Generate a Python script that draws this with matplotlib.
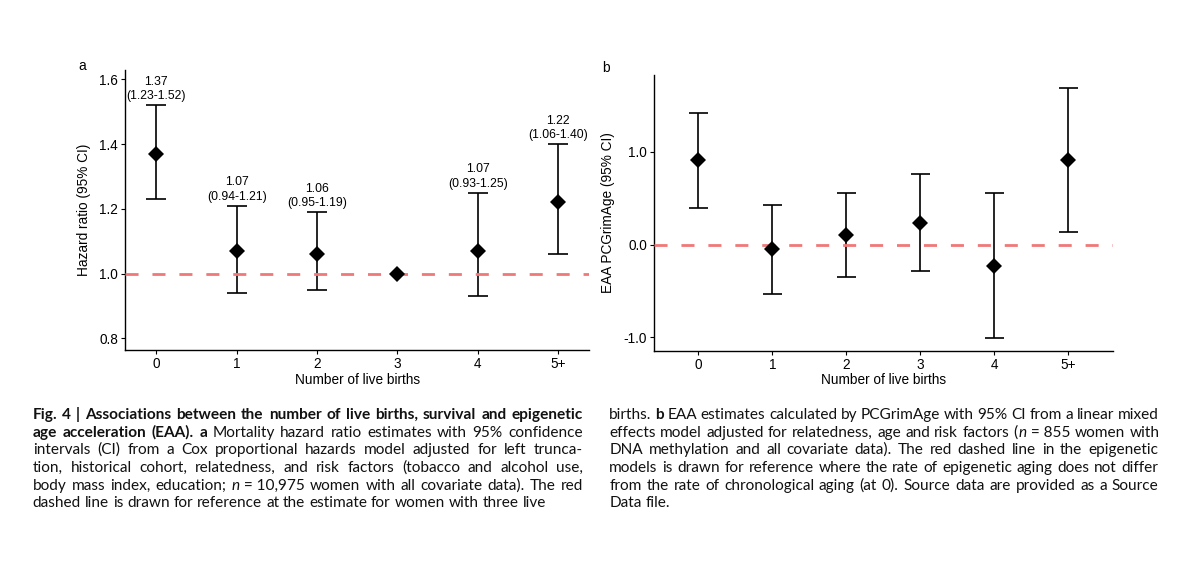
import math
import numpy as np
import matplotlib
matplotlib.use("Agg")
import matplotlib.pyplot as plt

# ---------------- data ----------------
births = ["0", "1", "2", "3", "4", "5+"]

hr_est = [1.37, 1.07, 1.06, 1.00, 1.07, 1.22]
hr_low = [1.23, 0.94, 0.95, np.nan, 0.93, 1.06]
hr_high = [1.52, 1.21, 1.19, np.nan, 1.25, 1.40]
hr_ref = 1.0

eaa_est = [0.91, -0.05, 0.10, 0.23, -0.23, 0.91]
eaa_low = [0.39, -0.53, -0.35, -0.29, -1.01, 0.13]
eaa_high = [1.42, 0.43, 0.56, 0.76, 0.56, 1.69]
eaa_ref = 0.0

hr_ticks = [0.8, 1.0, 1.2, 1.4, 1.6]
hr_ticklabels = ["0.8", "1.0", "1.2", "1.4", "1.6"]
eaa_ticks = [-1.0, 0.0, 1.0]
eaa_ticklabels = ["-1.0", "0.0", "1.0"]

xlabel = "Number of live births"
ylabel_a = "Hazard ratio (95% CI)"
ylabel_b = "EAA PCGrimAge (95% CI)"

caption_left = [
    ([("Fig. 4 | Associations between the number of live births, survival and epigenetic", "b")], True),
    ([("age acceleration (EAA). a", "b"), (" Mortality hazard ratio estimates with 95% confidence", "r")], True),
    ([("intervals (CI) from a Cox proportional hazards model adjusted for left trunca-", "r")], True),
    ([("tion, historical cohort, relatedness, and risk factors (tobacco and alcohol use,", "r")], True),
    ([("body mass index, education; ", "r"), ("n", "i"), ("\u00a0=\u00a010,975 women with all covariate data). The red", "r")], True),
    ([("dashed line is drawn for reference at the estimate for women with three live", "r")], False),
]
caption_right = [
    ([("births. ", "r"), ("b", "b"), (" EAA estimates calculated by PCGrimAge with 95% CI from a linear mixed", "r")], True),
    ([("effects model adjusted for relatedness, age and risk factors (", "r"), ("n", "i"), ("\u00a0=\u00a0855 women with", "r")], True),
    ([("DNA methylation and all covariate data). The red dashed line in the epigenetic", "r")], True),
    ([("models is drawn for reference where the rate of epigenetic aging does not differ", "r")], True),
    ([("from the rate of chronological aging (at 0). Source data are provided as a Source", "r")], True),
    ([("Data file.", "r")], False),
]

# ---------------- style ----------------
W, H, DPI = 1200, 564, 100
plt.rcParams["font.family"] = ["Liberation Sans", "DejaVu Sans"]
plt.rcParams["lines.scale_dashes"] = False
RED = "#F07878"
TICK_FS = 9.8
TITLE_FS = 9.8
ANN_FS = 8.7
LW = 1.2
CAP = 0.125  # half cap width in data units

fig = plt.figure(figsize=(W / DPI, H / DPI), dpi=DPI)
fig.patch.set_facecolor("white")


def px_axes(l, t, r, b):
    return fig.add_axes([l / W, 1 - b / H, (r - l) / W, (b - t) / H])


def style_axes(ax):
    for s in ["top", "right"]:
        ax.spines[s].set_visible(False)
    for s in ["left", "bottom"]:
        ax.spines[s].set_linewidth(1.0)
        ax.spines[s].set_color("black")
    ax.tick_params(axis="both", length=2.9, width=0.8, color="black",
                   labelsize=TICK_FS, labelcolor="black", pad=2.0)
    ax.set_facecolor("white")


def draw_panel(ax, est, low, high, ref, ticks, ticklabels, ylab, labels=None):
    x = np.arange(len(births))
    est = np.asarray(est, float)
    low = np.asarray(low, float)
    high = np.asarray(high, float)
    m = ~np.isnan(low)
    ax.vlines(x[m], low[m], high[m], color="black", lw=LW, zorder=2)
    ax.hlines(low[m], x[m] - CAP, x[m] + CAP, color="black", lw=LW, zorder=2)
    ax.hlines(high[m], x[m] - CAP, x[m] + CAP, color="black", lw=LW, zorder=2)
    ax.axhline(ref, color=RED, lw=2.0, dashes=(9.4, 10.0), zorder=3)
    ax.plot(x, est, linestyle="none", marker="D", ms=8.0, mew=0,
            color="black", zorder=4)
    if labels:
        for xi, hi, lab in zip(x, high, labels):
            if lab:
                ax.annotate(lab, xy=(xi, hi), xytext=(0, 2.2),
                            textcoords="offset points", ha="center",
                            va="bottom", fontsize=ANN_FS, linespacing=1.25,
                            color="black")
    ax.set_xticks(x)
    ax.set_xticklabels(births)
    ax.set_yticks(ticks)
    ax.set_yticklabels(ticklabels)
    ax.set_xlabel(xlabel, fontsize=TITLE_FS)
    ax.set_ylabel(ylab, fontsize=TITLE_FS)
    ax.xaxis.label.set_va("center")
    ax.yaxis.label.set_va("center")


# panel a
axa = px_axes(125, 70, 589.3, 350)
style_axes(axa)
hr_labels = [
    "" if np.isnan(lo) else f"{e:.2f}\n({lo:.2f}-{hi:.2f})"
    for e, lo, hi in zip(hr_est, hr_low, hr_high)
]
draw_panel(axa, hr_est, hr_low, hr_high, hr_ref, hr_ticks, hr_ticklabels,
           ylabel_a, hr_labels)
axa.set_xlim(-0.39, 5.39)
axa.set_ylim(0.764, 1.629)
axa.yaxis.set_label_coords((84 - 125) / 464.3, 0.5)
axa.xaxis.set_label_coords(0.5, (350 - 380) / 280)

# panel b
axb = px_axes(654, 75, 1112.7, 350.7)
style_axes(axb)
draw_panel(axb, eaa_est, eaa_low, eaa_high, eaa_ref, eaa_ticks,
           eaa_ticklabels, ylabel_b)
axb.set_xlim(-0.6, 5.6)
axb.set_ylim(-1.144, 1.826)
axb.yaxis.set_label_coords((608.3 - 654) / 458.7, 0.5)
axb.xaxis.set_label_coords(0.5, (350.7 - 380) / 275.7)

fig.text(82 / W, 1 - 70 / H, "a", fontsize=10, va="baseline", ha="center")
fig.text(606 / W, 1 - 71.5 / H, "b", fontsize=10, va="baseline", ha="center")

# ---------------- caption ----------------
CAP_FAMILY = ["Lato", "DejaVu Sans"]
CAP_FS = 11.1
renderer = fig.canvas.get_renderer()


def text_kw(st):
    kw = dict(fontsize=CAP_FS, family=CAP_FAMILY, va="baseline", ha="left",
              color="#111111")
    if st == "b":
        kw["weight"] = "bold"
    elif st == "i":
        kw["style"] = "italic"
    return kw


def mk(txt, st, x=0.0, y=0.0):
    return fig.text(x, y, txt, **text_kw(st))


_cache = {}


def metrics(txt, st):
    """ink width and the vertical pixel drift Agg introduces for this word"""
    key = (txt, st)
    if key not in _cache:
        t = mk(txt, st)
        w = t.get_window_extent(renderer).width
        _, h, d = renderer.get_text_width_height_descent(
            txt, t.get_fontproperties(), False)
        t.remove()
        asc = h - d
        f = d - math.floor(d)
        g = asc - math.floor(asc)
        drift = int(round(f)) - int(math.floor(g + f + 1e-9))
        _cache[key] = (w, drift)
    return _cache[key]


def ink_px(txt, st):
    return metrics(txt, st)[0]


gap_nat = ink_px("x x", "r") - 2 * ink_px("x", "r")


def tokenize(runs):
    tokens, cur = [], []
    for text, st in runs:
        parts = text.split(" ")
        for j, p in enumerate(parts):
            if j > 0 and cur:
                tokens.append(cur)
                cur = []
            if p:
                cur.append((p, st))
    if cur:
        tokens.append(cur)
    return tokens


def layout(lines, x0, y0, colw, lh):
    for i, (runs, justify) in enumerate(lines):
        tokens = tokenize(runs)
        tw = [[ink_px(s, st) for s, st in tok] for tok in tokens]
        total = sum(sum(w) for w in tw)
        ng = len(tokens) - 1
        if justify and ng > 0:
            gap = max((colw - total) / ng, 0.55 * gap_nat)
        else:
            gap = gap_nat
        y = round(y0 + i * lh)
        x = x0
        for tok, ws in zip(tokens, tw):
            xx = x
            for (s, st), w in zip(tok, ws):
                drift = metrics(s, st)[1]
                mk(s, st, xx / W, 1 - (y - drift) / H)
                xx += w + 0.6
            x = xx - 0.6 + gap


layout(caption_left, 32.7, 419.3, 550, 17.6)
layout(caption_right, 609.3, 419.3, 549, 17.6)

fig.savefig("out.png", dpi=DPI, facecolor="white")
